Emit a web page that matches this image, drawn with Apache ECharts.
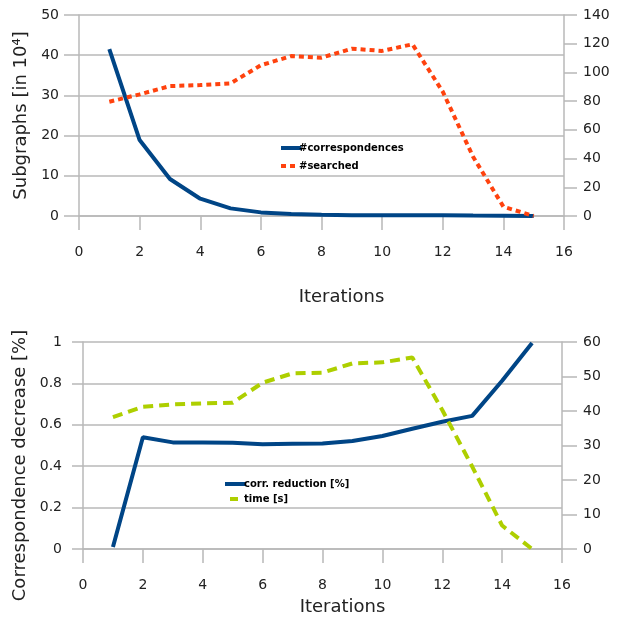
<!DOCTYPE html>
<html><head><meta charset="utf-8">
<script src="https://cdn.jsdelivr.net/npm/echarts@6/dist/echarts.min.js"></script>
<style>html,body{margin:0;padding:0;background:#fff}#c{width:621px;height:619px}</style>
</head><body><div id="c"></div>
<script>
const iterations = [1,2,3,4,5,6,7,8,9,10,11,12,13,14,15];
const correspondences = [41.5,18.9,9.2,4.3,1.9,0.9,0.5,0.3,0.2,0.2,0.2,0.2,0.1,0.05,0];
const searched = [79.6,84.7,90.5,91.2,92.4,105,111.4,110.3,116.5,115,119.6,86.6,41.3,6.5,0];
const corrReduction = [0.01,0.54,0.515,0.515,0.513,0.506,0.508,0.51,0.522,0.546,0.581,0.615,0.643,0.813,0.995];
const timeS = [38.2,41.2,41.9,42.2,42.4,48.2,50.9,51.1,53.8,54.1,55.5,40.3,23.9,6.8,0];

const F = 'DejaVu Sans';
const gridCol = '#b8b8b8';
const txt = '#222';
function pairs(ys){ return iterations.map((x,i)=>[x, ys[i]]); }
function xAx(gi, labelMargin, nameGap){
  return {gridIndex:gi, type:'value', min:0, max:16, interval:2,
    axisLine:{show:true, onZero:false, lineStyle:{color:gridCol, width:1.5}},
    axisTick:{show:true, inside:false, length:14, lineStyle:{color:gridCol, width:1.5}},
    splitLine:{show:false},
    axisLabel:{color:txt, fontFamily:F, fontSize:14, margin:labelMargin},
    name:'Iterations', nameLocation:'middle', nameGap:nameGap,
    nameTextStyle:{color:txt, fontFamily:F, fontSize:18, padding:[0,0,0,40]}
  };
}
function yAx(gi, pos, min, max, interval, tickLen, labelMargin, split, extra){
  return Object.assign({gridIndex:gi, type:'value', position:pos, min:min, max:max, interval:interval,
    axisLine:{show:true, lineStyle:{color:gridCol, width:1.5}},
    axisTick:{show:true, length:tickLen, lineStyle:{color:gridCol, width:1.5}},
    splitLine:{show:split, lineStyle:{color:gridCol, width:1.5}},
    axisLabel:{color:txt, fontFamily:F, fontSize:14, margin:labelMargin}
  }, extra||{});
}
const iconBar = 'path://M0,0h20v4h-20z';
const iconDots = 'path://M0,0h5v4h-5zM9,0h5v4h-5zM20,0L20,4';
const iconDash = 'path://M5,0h8v4h-8zM0,0L0,4M20,0L20,4';
const chart = echarts.init(document.getElementById('c'), null, {renderer:'canvas'});
chart.setOption({
  animation:false,
  backgroundColor:'#fff',
  grid:[
    {left:79, right:57, top:15, height:201},
    {left:83, right:59, top:342, height:207}
  ],
  xAxis:[ xAx(0, 29, 72), xAx(1, 29, 49) ],
  yAxis:[
    yAx(0,'left',0,50,10,15,20,true,{name:'Subgraphs [in 10⁴]', nameLocation:'middle', nameGap:45, nameRotate:90,
      nameTextStyle:{color:txt, fontFamily:F, fontSize:18}}),
    yAx(0,'right',0,140,20,13,19,false),
    yAx(1,'left',0,1,0.2,11,21,true,{name:'Correspondence decrease [%]', nameLocation:'middle', nameGap:49, nameRotate:90,
      nameTextStyle:{color:txt, fontFamily:F, fontSize:18, padding:[0,40,0,0]}}),
    yAx(1,'right',0,60,10,15,21,false)
  ],
  legend:[
    {orient:'vertical', left:276, top:138, itemWidth:20, itemHeight:4, itemGap:8,
     textStyle:{fontFamily:F, fontSize:10, color:'#000', fontWeight:'bold', padding:[0,0,0,-7]},
     data:[{name:'#correspondences', icon:iconBar},{name:'#searched', icon:iconDots}]},
    {orient:'vertical', left:220, top:474, itemWidth:20, itemHeight:4, itemGap:5,
     textStyle:{fontFamily:F, fontSize:10, color:'#000', fontWeight:'bold', padding:[0,0,0,-6]},
     data:[{name:'corr. reduction [%]', icon:iconBar},{name:'time [s]', icon:iconDash}]}
  ],
  series:[
    {name:'#correspondences', type:'line', xAxisIndex:0, yAxisIndex:0, data:pairs(correspondences),
     symbol:'none', lineStyle:{color:'#004586', width:4}, itemStyle:{color:'#004586'}},
    {name:'#searched', type:'line', xAxisIndex:0, yAxisIndex:1, data:pairs(searched),
     symbol:'none', lineStyle:{color:'#ff420e', width:4, type:[5,4]}, itemStyle:{color:'#ff420e'}},
    {name:'corr. reduction [%]', type:'line', xAxisIndex:1, yAxisIndex:2, data:pairs(corrReduction),
     symbol:'none', lineStyle:{color:'#004586', width:4}, itemStyle:{color:'#004586'}},
    {name:'time [s]', type:'line', xAxisIndex:1, yAxisIndex:3, data:pairs(timeS),
     symbol:'none', lineStyle:{color:'#aecf00', width:4, type:[10,6]}, itemStyle:{color:'#aecf00'}}
  ]
});
</script></body></html>
